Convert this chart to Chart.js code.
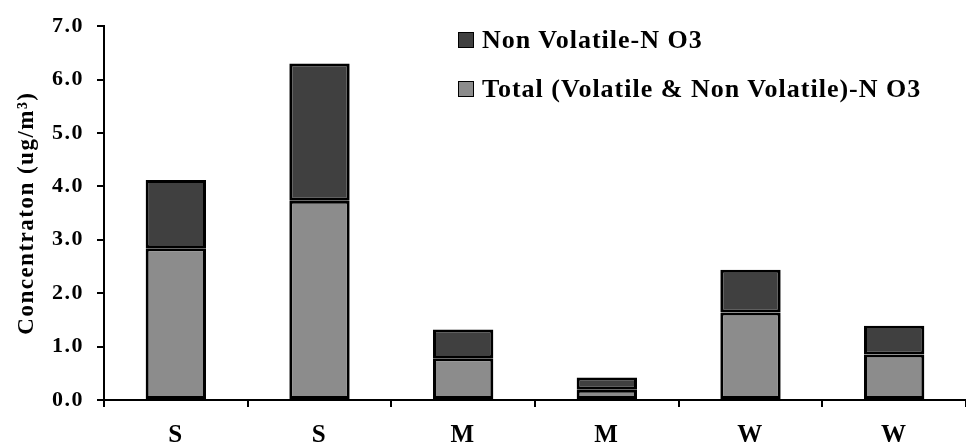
<!DOCTYPE html>
<html>
<head>
<meta charset="utf-8">
<script src="https://cdn.jsdelivr.net/npm/chart.js@4"></script>
<style>
  body { margin: 0; background: #fff; }
  #wrap { position: relative; width: 966px; height: 447px; }
  .legend { position: absolute; left: 458px; font-family: "Liberation Serif", serif; font-weight: bold; font-size: 26px; letter-spacing: 1px; color: #000; white-space: nowrap; }
  .legend span.box { display: inline-block; width: 14px; height: 14px; border: 1px solid #000; margin-right: 8px; vertical-align: middle; position: relative; top: -2px; }
</style>
</head>
<body>
<div id="wrap">
  <canvas id="chart" width="966" height="447"></canvas>
  <div class="legend" style="top:25px"><span class="box" style="background:#404040"></span>Non Volatile-N O3</div>
  <div class="legend" style="top:74px"><span class="box" style="background:#8c8c8c"></span>Total (Volatile &amp; Non Volatile)-N O3</div>
</div>
<script>
// --- DADOS ---
const categories = ['S', 'S', 'M', 'M', 'W', 'W'];
const totalNO3 = [2.84, 3.73, 0.78, 0.19, 1.64, 0.85];
const nonVolatileNO3 = [1.28, 2.57, 0.54, 0.23, 0.80, 0.54];
const yTicks = [0, 1, 2, 3, 4, 5, 6, 7];

const serif = 'Liberation Serif';

// espaçamento entre letras, como no original
const spacing = {
    id: 'spacing',
    beforeDraw(chart) { chart.ctx.letterSpacing = '1.5px'; }
};

const ctx = document.getElementById('chart').getContext('2d');
const chart = new Chart(ctx, {
    type: 'bar',
    data: {
        labels: categories,
        datasets: [{
            label: 'Total (Volatile & Non Volatile)-NO3',
            data: totalNO3,
            backgroundColor: '#8c8c8c',
            borderColor: '#000',
            borderWidth: 3,
            borderSkipped: false
        }, {
            label: 'Non Volatile-NO3',
            data: nonVolatileNO3,
            backgroundColor: '#404040',
            borderColor: '#000',
            borderWidth: 3,
            borderSkipped: false
        }]
    },
    plugins: [spacing],
    options: {
        responsive: false,
        animation: false,
        layout: { padding: { top: 24, right: 0, left: 0, bottom: 0 } },
        plugins: { legend: { display: false }, tooltip: { enabled: false } },
        datasets: { bar: { categoryPercentage: 0.42, barPercentage: 1 } },
        scales: {
            x: {
                stacked: true,
                border: { color: '#000', width: 2 },
                grid: { offset: true, drawOnChartArea: false, color: '#000', tickLength: 7, lineWidth: 2 },
                ticks: { color: '#000', padding: 14, font: { family: serif, weight: 'bold', size: 25 } },
                afterFit: s => { s.height = 47; }
            },
            y: {
                stacked: true,
                min: 0,
                max: 7,
                afterBuildTicks: s => { s.ticks = yTicks.map(v => ({ value: v })); },
                border: { color: '#000', width: 2 },
                grid: { drawOnChartArea: false, color: '#000', tickLength: 7, lineWidth: 2 },
                ticks: {
                    color: '#000',
                    padding: 13,
                    font: { family: serif, weight: 'bold', size: 22 },
                    callback: v => v.toFixed(1)
                },
                title: {
                    display: true,
                    text: 'Concentraton (ug/m³)',
                    color: '#000',
                    padding: { top: 13, bottom: 0 },
                    font: { family: serif, weight: 'bold', size: 23 }
                },
                afterFit: s => { s.width = 104; }
            }
        }
    }
});
</script>
</body>
</html>
